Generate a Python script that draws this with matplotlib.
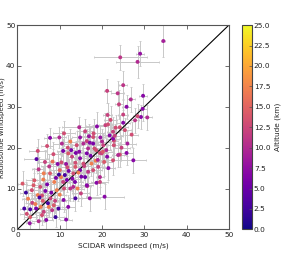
import matplotlib
matplotlib.use("Agg")
import matplotlib.pyplot as plt
import numpy as np

scidar = [24.3, 29.0, 28.4, 34.5, 21.2, 23.7, 25.0, 24.0, 26.8, 25.8, 29.7, 29.6, 21.3, 25.0, 29.2, 30.7,
          14.6, 20.8, 25.0, 24.2, 27.4, 27.8, 21.4, 23.2, 19.6, 22.8, 21.0, 21.2, 16.0, 19.5, 16.5, 17.1,
          20.6, 9.9, 14.8, 7.0, 11.9, 4.8, 8.5, 10.8, 14.6, 13.8, 4.5, 10.4, 5.0, 12.9, 11.5, 13.7,
          14.8, 12.1, 13.7, 6.2, 7.7, 1.2, 3.4, 1.6, 3.0, 4.4, 5.5, 6.2, 7.4, 8.6, 9.7, 8.2,
          5.8, 6.8, 2.9, 11.5, 8.7, 9.1, 11.7, 12.5, 15.1, 9.3, 5.4, 7.8, 4.8, 14.2, 13.7, 10.9,
          7.7, 16.4, 19.5, 17.1, 25.8, 24.2, 27.0, 18.7, 28.4, 25.4, 22.6, 17.9, 17.9, 22.6, 22.8, 20.3,
          15.6, 16.7, 18.6, 12.0, 16.4, 19.9, 22.6, 23.8, 15.6, 17.5, 19.1, 14.8, 16.7, 17.9, 11.2, 13.2,
          13.6, 10.8, 13.2, 16.4, 19.5, 6.0, 8.0, 10.0, 11.0, 3.5, 5.0, 9.0, 12.0, 4.0, 2.5, 7.0,
          18.5, 20.5, 21.5, 20.0, 18.0, 16.0, 12.5, 10.0, 9.5, 6.5, 3.0, 2.0, 15.0, 11.0, 26.0,
          4.2, 5.8, 7.2, 8.9, 10.3, 6.6, 3.8, 9.8, 11.8, 13.0, 14.4, 15.8, 17.3, 18.2, 19.0,
          20.2, 21.8, 23.0, 22.0, 7.5, 6.1, 12.7, 14.0, 16.9, 8.3, 5.2, 2.2, 10.5, 18.8, 24.6]
radiosonde = [42.1, 43.0, 41.0, 46.1, 33.9, 33.3, 35.3, 30.6, 31.8, 30.0, 32.7, 29.5, 28.0, 28.1, 27.5, 27.4,
              25.0, 25.5, 26.1, 25.0, 16.9, 26.7, 25.7, 24.9, 22.5, 21.7, 19.4, 17.8, 12.8, 12.8, 10.6, 7.6,
              8.0, 22.5, 22.5, 20.4, 20.0, 19.2, 18.4, 19.2, 19.0, 18.7, 17.2, 16.4, 14.7, 17.8, 16.0, 16.3,
              17.4, 14.3, 15.3, 13.7, 13.7, 11.2, 9.6, 5.1, 4.9, 5.1, 5.5, 4.3, 5.5, 5.9, 5.1, 4.7,
              3.5, 2.3, 1.5, 2.4, 11.6, 12.6, 12.1, 10.0, 12.9, 9.6, 10.4, 7.6, 8.4, 10.0, 7.6, 7.2,
              22.4, 21.6, 18.7, 21.2, 18.7, 18.3, 23.2, 11.4, 27.7, 24.3, 23.9, 22.6, 21.0, 22.2, 20.6, 20.6,
              21.0, 19.8, 19.4, 18.6, 18.6, 18.6, 16.9, 18.2, 16.1, 16.1, 15.3, 14.5, 14.1, 14.5, 13.3, 13.7,
              11.6, 11.6, 10.4, 10.8, 11.6, 7.0, 9.0, 8.5, 10.0, 6.5, 2.0, 3.0, 5.5, 12.0, 7.5, 11.0,
              16.8, 16.5, 15.0, 21.5, 23.5, 24.0, 21.5, 14.5, 16.0, 16.5, 3.0, 9.0, 8.8, 23.5, 21.0,
              6.2, 8.3, 6.4, 7.0, 12.8, 9.4, 10.8, 13.4, 15.2, 12.4, 13.9, 15.5, 18.0, 19.8, 17.0,
              19.0, 23.0, 22.9, 26.8, 15.4, 12.2, 19.4, 20.6, 22.8, 16.6, 7.8, 3.8, 21.0, 25.2, 20.0]
altitude = [11, 8, 10, 9, 12, 11, 11, 12, 10, 7, 7, 7, 12, 12, 7, 10,
            10, 12, 7, 13, 7, 11, 13, 13, 8, 13, 10, 7, 5, 10, 10, 8,
            7, 10, 8, 13, 13, 13, 13, 6, 7, 6, 4, 13, 11, 12, 8, 13,
            7, 6, 14, 17, 14, 14, 13, 3, 3, 6, 17, 12, 17, 14, 3, 11,
            13, 7, 8, 7, 17, 6, 6, 11, 6, 17, 13, 12, 17, 17, 3, 7,
            7, 12, 13, 7, 7, 13, 13, 7, 13, 13, 12, 13, 6, 7, 13, 12,
            10, 10, 13, 14, 6, 12, 13, 10, 13, 17, 12, 6, 11, 13, 3, 13,
            6, 12, 10, 7, 12, 14, 6, 17, 13, 12, 10, 2, 7, 14, 17, 6,
            17, 14, 7, 10, 13, 12, 17, 15, 7, 12, 14, 2, 12, 13, 9,
            17, 13, 3, 12, 17, 6, 14, 2, 13, 7, 17, 12, 6, 13, 10,
            14, 7, 12, 13, 11, 17, 6, 13, 8, 16, 3, 13, 10, 7, 12]
scidar_err = [6.3, 1.0, 5.0, 0.5, 0.8, 1.5, 1.0, 1.0, 1.0, 1.0, 1.0, 1.0, 1.0, 1.2, 1.0, 1.0,
              4.0, 1.5, 1.5, 2.0, 3.0, 1.0, 1.0, 1.0, 1.0, 1.0, 1.0, 1.0, 1.0, 1.0, 1.0, 2.5,
              4.5, 1.5, 2.0, 1.5, 1.5, 2.0, 1.5, 1.5, 1.5, 1.5, 3.0, 1.5, 1.5, 1.5, 1.5, 1.5,
              1.5, 1.5, 1.5, 1.5, 1.5, 1.0, 1.5, 1.0, 1.5, 1.5, 1.5, 1.5, 1.5, 1.5, 1.5, 1.5,
              1.5, 1.5, 1.0, 1.5, 1.5, 1.5, 1.5, 1.5, 1.5, 1.5, 1.5, 1.5, 1.5, 1.5, 1.5, 1.5,
              1.5, 2.0, 1.5, 2.0, 1.5, 1.5, 1.5, 2.0, 1.0, 1.5, 1.5, 2.5, 2.0, 1.5, 1.5, 2.0,
              2.0, 1.5, 1.5, 2.0, 1.5, 1.5, 2.0, 1.5, 2.0, 1.5, 1.5, 2.0, 1.5, 2.0, 2.0, 1.5,
              2.0, 1.5, 2.0, 1.5, 2.0, 1.5, 2.0, 1.5, 2.0, 1.5, 1.5, 2.0, 1.5, 2.0, 1.5, 2.0,
              1.5, 2.0, 1.5, 2.0, 2.5, 2.0, 1.5, 2.0, 1.5, 2.0, 1.5, 1.5, 2.0, 2.5, 2.0,
              1.5, 2.0, 1.5, 2.5, 2.0, 1.5, 1.5, 2.0, 1.5, 2.0, 2.5, 1.5, 2.0, 1.5, 2.0,
              2.5, 1.5, 2.0, 1.5, 2.0, 1.5, 2.5, 1.5, 2.0, 1.5, 2.0, 1.5, 2.0, 2.5, 2.0]
radiosonde_err = [3.0, 3.0, 4.0, 3.8, 3.0, 3.0, 3.5, 3.5, 3.0, 3.0, 3.0, 3.0, 3.0, 3.5, 3.0, 3.0,
                  2.5, 3.0, 3.0, 3.0, 3.0, 3.0, 3.0, 3.0, 3.0, 3.0, 3.0, 3.0, 2.5, 2.5, 2.5, 3.0,
                  3.0, 2.5, 3.0, 3.0, 3.0, 3.0, 3.0, 3.0, 3.0, 3.0, 3.0, 3.0, 3.0, 3.0, 3.0, 3.0,
                  3.0, 3.0, 3.0, 3.0, 3.0, 3.0, 3.0, 2.5, 2.5, 2.5, 2.5, 2.5, 2.5, 2.5, 2.5, 2.5,
                  2.5, 2.5, 2.0, 2.5, 3.0, 3.0, 3.0, 3.0, 3.0, 3.0, 3.0, 3.0, 3.0, 3.0, 3.0, 3.0,
                  2.5, 3.0, 3.0, 3.5, 3.0, 3.0, 3.0, 3.0, 3.0, 3.0, 3.5, 3.0, 3.0, 3.0, 3.5, 3.0,
                  3.0, 3.0, 3.5, 3.0, 3.0, 3.0, 3.5, 3.0, 3.0, 3.0, 3.0, 3.0, 3.5, 3.0, 3.0, 3.0,
                  3.0, 3.0, 3.5, 3.0, 3.0, 2.5, 3.0, 3.0, 3.0, 2.5, 2.0, 2.5, 3.0, 3.0, 2.5, 3.0,
                  3.0, 3.5, 3.0, 3.0, 3.5, 3.0, 3.0, 3.0, 3.0, 3.0, 2.0, 2.5, 3.0, 3.0, 3.0,
                  2.5, 3.0, 2.5, 3.0, 3.5, 3.0, 3.0, 3.0, 3.5, 3.0, 3.0, 3.5, 3.0, 3.5, 3.0,
                  3.0, 3.5, 3.0, 3.5, 3.0, 3.0, 3.0, 3.5, 3.0, 3.0, 2.5, 2.0, 3.0, 3.5, 3.0]

fig = plt.figure(figsize=(2.99, 2.56), dpi=100)
ax = fig.add_axes([0.0585, 0.104, 0.707, 0.798])
cax = fig.add_axes([0.809, 0.104, 0.033, 0.798])

txt = '#222222'
fs = 5.3
ax.errorbar(scidar, radiosonde, xerr=scidar_err, yerr=radiosonde_err, fmt='none',
            ecolor='#c8c8c8', elinewidth=0.7, capsize=1.0, capthick=0.6, zorder=1)
sc = ax.scatter(scidar, radiosonde, c=altitude, cmap='plasma', vmin=0, vmax=25,
                s=8, linewidths=0, zorder=3)
ax.plot([0, 50], [0, 50], color='black', lw=0.8, zorder=2)
ax.set_xlim(0, 50)
ax.set_ylim(0, 50)
ax.set_xticks([0, 10, 20, 30, 40, 50])
ax.set_yticks([0, 10, 20, 30, 40, 50])
ax.tick_params(direction='in', top=True, right=True, length=3, width=0.6,
               labelsize=fs, colors='#555555', labelcolor=txt, pad=2)
ax.tick_params(axis='y', pad=1.5)
for s in ax.spines.values():
    s.set_color('#555555')
    s.set_linewidth(0.8)
ax.set_xlabel('SCIDAR windspeed (m/s)', fontsize=fs, color=txt, labelpad=3)
ax.set_ylabel('Radiosonde windspeed (m/s)', fontsize=5, color=txt)
ax.yaxis.set_label_coords(-0.057, 0.5)

cb = fig.colorbar(sc, cax=cax, ticks=np.arange(0, 25.01, 2.5))
cb.ax.tick_params(direction='in', length=2, width=0.5, labelsize=fs, colors='#555555',
                  labelcolor=txt, pad=1.5)
cb.ax.set_yticklabels(['%.1f' % t for t in np.arange(0, 25.01, 2.5)])
cb.outline.set_edgecolor('#444444')
cb.outline.set_linewidth(0.8)
cb.set_label('Altitude (km)', fontsize=fs, color=txt, labelpad=3)

fig.savefig('out.png', dpi=100)
